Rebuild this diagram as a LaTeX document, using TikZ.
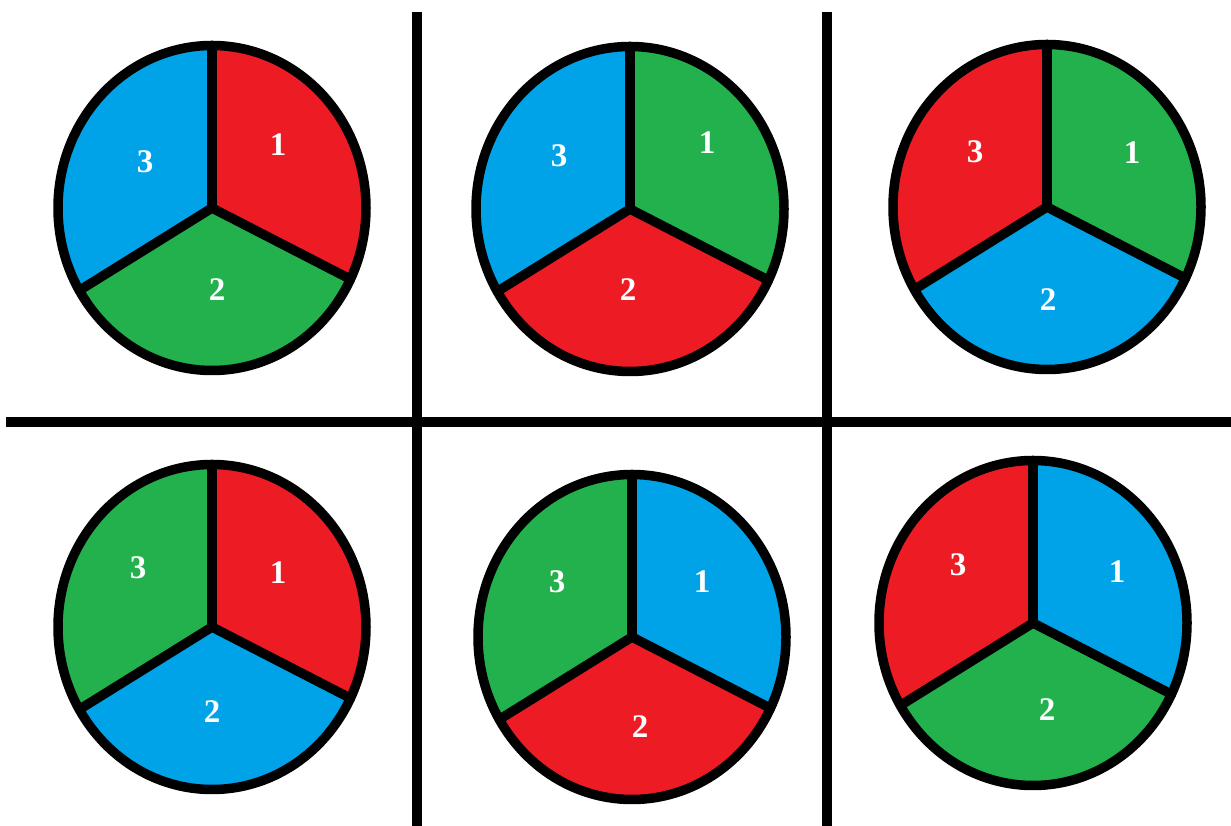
\documentclass[tikz,border=0pt]{standalone}
\usepackage{fontspec}
\setmainfont{Liberation Serif}
\definecolor{pr}{HTML}{ED1C24}
\definecolor{pg}{HTML}{22B14C}
\definecolor{pb}{HTML}{00A2E8}
\tikzset{
  outline/.style={draw=black, line width=9.5pt},
  gridline/.style={draw=black, line width=10pt},
  num/.style={text=white, font=\fontsize{33}{33}\selectfont\bfseries, inner sep=0pt},
}
\newcommand\wheel[5]{%
  \coordinate (#1) at #2;
  \fill[#3] (#1) -- ++(-26:154pt and 162.5pt) arc[start angle=-26, end angle=90, x radius=154pt, y radius=162.5pt] -- cycle;
  \fill[#4] (#1) -- ++(210.5:154pt and 162.5pt) arc[start angle=210.5, end angle=334, x radius=154pt, y radius=162.5pt] -- cycle;
  \fill[#5] (#1) -- ++(90:154pt and 162.5pt) arc[start angle=90, end angle=210.5, x radius=154pt, y radius=162.5pt] -- cycle;
  \draw[outline] (#1) ellipse [x radius=154pt, y radius=162.5pt];
  \draw[outline, line cap=round] (#1) -- ++(90:154pt and 162.5pt);
  \draw[outline, line cap=round] (#1) -- ++(-26:154pt and 162.5pt);
  \draw[outline, line cap=round] (#1) -- ++(210.5:154pt and 162.5pt);
}
\begin{document}
\begin{tikzpicture}[x=1pt, y=1pt]
\fill[white] (0,0) rectangle (1231,826);
\useasboundingbox (0,0) rectangle (1231,826);
% grid
\coordinate (v1t) at (417,814); \coordinate (v1b) at (417,0);
\coordinate (v2t) at (827,814); \coordinate (v2b) at (827,0);
\coordinate (hl) at (6,404); \coordinate (hr) at (1231,404);
\draw[gridline] (v1t) -- (v1b);
\draw[gridline] (v2t) -- (v2b);
\draw[gridline] (hl) -- (hr);
% wheels
\wheel{w1}{(212,618)}{pr}{pg}{pb}
\wheel{w2}{(630,617)}{pg}{pr}{pb}
\wheel{w3}{(1047,619)}{pg}{pb}{pr}
\wheel{w4}{(212,199)}{pr}{pb}{pg}
\wheel{w5}{(632,189)}{pb}{pr}{pg}
\wheel{w6}{(1033,203)}{pb}{pg}{pr}
% labels
\node[num] (w1a) at (278,681) {1};
\node[num] (w1b) at (217,536) {2};
\node[num] (w1c) at (145,664) {3};
\node[num] (w2a) at (707,683) {1};
\node[num] (w2b) at (628,536) {2};
\node[num] (w2c) at (559,670) {3};
\node[num] (w3a) at (1132,673) {1};
\node[num] (w3b) at (1048,526) {2};
\node[num] (w3c) at (975,674) {3};
\node[num] (w4a) at (278,253) {1};
\node[num] (w4b) at (212,114) {2};
\node[num] (w4c) at (138,258) {3};
\node[num] (w5a) at (702,244) {1};
\node[num] (w5b) at (640,99) {2};
\node[num] (w5c) at (557,244) {3};
\node[num] (w6a) at (1117,254) {1};
\node[num] (w6b) at (1047,116) {2};
\node[num] (w6c) at (958,261) {3};
\end{tikzpicture}
\end{document}
